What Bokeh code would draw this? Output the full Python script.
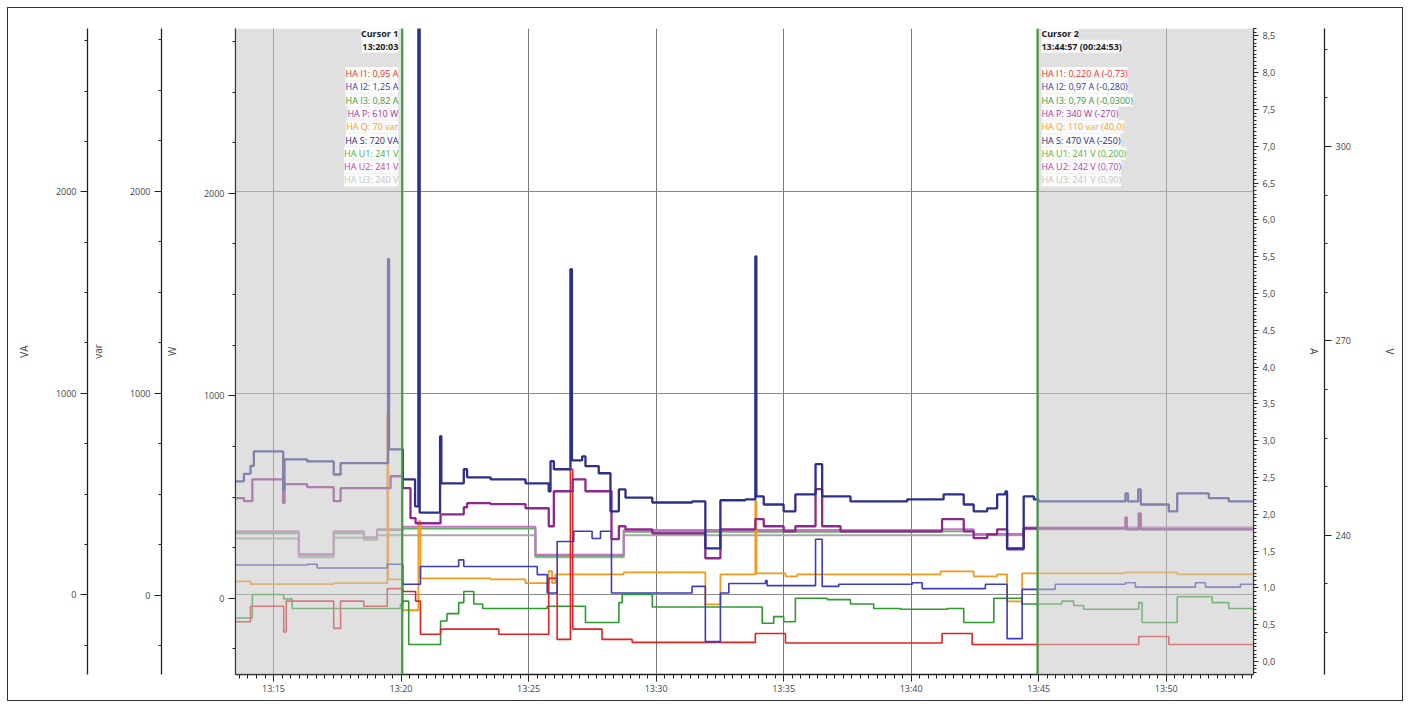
from bokeh.plotting import figure
from bokeh.models import (Range1d, LinearAxis, FixedTicker, Grid, BoxAnnotation,
                          Span, Label)
from bokeh.embed import file_html
from bokeh.resources import INLINE

FONT = "Open Sans"

# ---- time axis (minutes after 13:00) ----
X_START, X_END = 13.51, 53.42
CURSOR1 = 20.05   # 13:20:03
CURSOR2 = 44.95   # 13:44:57
x_tick_values = [15, 20, 25, 30, 35, 40, 45, 50]
x_tick_labels = ["13:15", "13:20", "13:25", "13:30", "13:35", "13:40", "13:45", "13:50"]

# ---- axis ranges / ticks ----
VA_RANGE = (-396, 2811)
VAR_RANGE = (-392, 2806)
W_RANGE = (-376, 2814)
A_RANGE = (-0.177, 8.60)
V_RANGE = (218.5, 318.2)
power_ticks = [0, 1000, 2000]
power_minor = [-250, 250, 500, 750, 1250, 1500, 1750, 2250, 2500, 2750]
a_tick_values = [0.0, 0.5, 1.0, 1.5, 2.0, 2.5, 3.0, 3.5, 4.0, 4.5, 5.0, 5.5, 6.0, 6.5, 7.0, 7.5, 8.0, 8.5]
a_tick_labels = ["0,0", "0,5", "1,0", "1,5", "2,0", "2,5", "3,0", "3,5", "4,0", "4,5",
                 "5,0", "5,5", "6,0", "6,5", "7,0", "7,5", "8,0", "8,5"]
v_tick_values = [240, 270, 300]
v_minor = [225, 232.5, 247.5, 255, 262.5, 277.5, 285, 292.5, 307.5, 315]

# ---- series (step data: time in minutes, value) ----
s_t = [13.51, 13.84, 14.10, 14.23, 15.38, 15.43, 16.32, 17.36, 17.63, 19.49, 19.53, 19.98,
       20.07, 20.55, 20.68, 20.73, 21.53, 21.58, 22.46, 22.59, 23.51, 24.88, 25.79, 25.86,
       25.99, 26.64, 26.70, 27.10, 27.23, 27.75, 28.21, 28.54, 28.80, 29.85, 31.41, 31.93,
       32.52, 33.50, 33.89, 33.93, 34.22, 35.00, 35.46, 36.25, 36.51, 37.62, 39.84, 41.27,
       42.06, 42.45, 42.98, 43.37, 43.69, 43.76, 44.41, 44.81, 45.00, 48.40, 48.50, 48.90,
       49.00, 50.10, 50.43, 51.67, 52.45, 53.42]
s_va = [563, 600, 640, 712, 520, 672, 662, 597, 653, 1667, 722, 722,
        573, 439, 3000, 408, 787, 553, 623, 583, 573, 553, 513, 663,
        623, 1616, 667, 687, 638, 603, 414, 523, 482, 458, 463, 230,
        469, 473, 1680, 488, 448, 414, 498, 648, 488, 463, 473, 498,
        448, 414, 429, 498, 513, 230, 488, 473, 463, 503, 463, 523,
        448, 414, 503, 480, 463, 463]

p_t = [13.51, 13.84, 14.17, 15.38, 15.43, 16.32, 17.36, 17.63, 19.59, 20.07, 20.37, 20.57,
       21.55, 22.46, 22.59, 23.51, 24.88, 25.79, 25.99, 26.73, 27.23, 28.25, 28.54, 28.80,
       29.85, 31.93, 32.52, 33.89, 34.22, 35.00, 35.46, 36.25, 36.51, 37.23, 41.21, 42.06,
       42.45, 42.98, 43.37, 43.76, 44.41, 48.40, 48.45, 48.92, 49.00, 53.42]
p_w = [495, 480, 588, 470, 564, 549, 480, 544, 603, 544, 396, 371,
       415, 450, 470, 465, 445, 356, 529, 588, 529, 292, 356, 341,
       321, 198, 341, 391, 356, 331, 356, 539, 356, 331, 391, 331,
       297, 316, 341, 242, 346, 400, 341, 420, 341, 341]

q_t = [13.51, 14.10, 17.36, 19.46, 19.50, 20.07, 20.68, 20.76, 23.51, 24.88, 25.79, 25.92,
       26.05, 28.73, 31.93, 32.52, 33.89, 33.93, 35.07, 35.53, 41.15, 42.45, 43.37, 43.76,
       44.35, 48.40, 50.43, 53.42]
q_var = [69, 55, 60, 900, 79, -74, 367, 84, 79, 60, 120, 60,
         104, 114, -45, 104, 466, 109, 94, 104, 119, 94, 104, -30,
         109, 114, 104, 104]

i2_t = [13.51, 16.32, 16.71, 19.46, 20.07, 20.76, 22.26, 22.46, 25.34, 25.73, 26.12, 26.77,
        27.49, 27.82, 28.25, 31.41, 31.93, 32.52, 32.85, 34.29, 34.35, 36.25, 36.51, 37.16,
        40.04, 40.43, 42.91, 43.76, 44.35, 45.65, 48.40, 48.79, 51.14, 51.54, 52.91, 53.42]
i2_a = [1.31, 1.32, 1.27, 1.32, 1.05, 1.29, 1.38, 1.29, 1.18, 0.93, 1.63, 1.77,
        1.67, 1.77, 0.93, 1.02, 0.27, 0.93, 1.06, 1.10, 1.03, 1.66, 1.02, 1.05,
        1.07, 0.99, 1.05, 0.31, 0.98, 1.05, 1.07, 1.01, 1.07, 1.01, 1.05, 1.05]

i3_t = [13.51, 14.17, 15.40, 15.73, 19.98, 20.07, 20.30, 21.55, 21.80, 22.26, 22.46, 22.85,
        23.20, 25.73, 27.23, 28.54, 28.67, 29.85, 34.16, 34.61, 35.00, 35.46, 36.71, 37.62,
        38.53, 39.58, 41.41, 42.06, 43.24, 44.35, 45.91, 46.37, 46.76, 48.92, 49.05, 50.43,
        51.80, 52.45, 53.42]
i3_a = [0.59, 0.91, 0.85, 0.72, 0.78, 0.82, 0.23, 0.55, 0.65, 0.80, 0.95, 0.78,
        0.72, 0.75, 0.53, 0.80, 0.91, 0.74, 0.52, 0.61, 0.54, 0.86, 0.84, 0.78,
        0.72, 0.71, 0.72, 0.53, 0.86, 0.78, 0.82, 0.76, 0.71, 0.80, 0.53, 0.88,
        0.80, 0.72, 0.72]

i1_t = [13.51, 14.10, 15.40, 15.50, 17.36, 17.63, 18.54, 19.46, 20.07, 20.57, 20.76, 21.55,
        23.83, 25.79, 26.12, 26.64, 26.73, 27.88, 29.06, 33.89, 35.07, 41.21, 42.39, 48.92,
        50.10, 53.42]
i1_a = [0.54, 0.75, 0.40, 0.82, 0.45, 0.82, 0.75, 0.99, 0.95, 0.82, 0.37, 0.44,
        0.37, 1.13, 0.30, 2.61, 0.44, 0.30, 0.26, 0.38, 0.25, 0.38, 0.23, 0.34,
        0.23, 0.23]

u_t = [13.51, 15.99, 17.36, 18.54, 19.06, 20.07, 25.27, 28.73, 41.21, 42.45, 44.41, 53.42]
u1_v = [240.3, 236.9, 240.3, 239.6, 240.8, 241.0, 236.8, 240.5, 240.6, 240.1, 241.0, 241.0]
u2_v = [240.6, 237.1, 240.6, 239.7, 240.9, 241.3, 237.0, 240.8, 240.9, 240.2, 241.2, 241.2]
u3_v = [239.5, 236.6, 239.6, 239.3, 240.0, 240.0, 236.6, 240.0, 240.0, 240.0, 240.9, 240.9]

# ---- cursor read-outs ----
cursor1_title = ["Cursor 1", "13:20:03"]
cursor2_title = ["Cursor 2", "13:44:57 (00:24:53)"]
cursor1_labels = ["HA I1: 0,95 A", "HA I2: 1,25 A", "HA I3: 0,82 A", "HA P: 610 W",
                  "HA Q: 70 var", "HA S: 720 VA", "HA U1: 241 V", "HA U2: 241 V", "HA U3: 240 V"]
cursor2_labels = ["HA I1: 0,220 A (-0,73)", "HA I2: 0,97 A (-0,280)", "HA I3: 0,79 A (-0,0300)",
                  "HA P: 340 W (-270)", "HA Q: 110 var (40,0)", "HA S: 470 VA (-250)",
                  "HA U1: 241 V (0,200)", "HA U2: 242 V (0,70)", "HA U3: 241 V (0,90)"]
label_colors = ["#e0352b", "#3b3ba6", "#3c9a3c", "#a23aa2", "#f2a31e", "#2b2b72",
                "#5aae46", "#b548b5", "#c4c4c4"]

# ---- colours ----
C_S, C_P, C_Q = "#2e2e8c", "#8c2a8c", "#f39a1c"
C_I1, C_I2, C_I3 = "#e02222", "#3c3cbe", "#2e9a2e"
C_U1, C_U2, C_U3 = "#62b062", "#c472c4", "#a8a8a8"
AX = "#222222"
TXT = "#444444"

p = figure(width=1396, height=694, x_range=Range1d(X_START, X_END),
           y_range=Range1d(*VA_RANGE), output_backend="svg", toolbar_location=None,
           x_axis_location=None, y_axis_location=None,
           min_border_left=227, min_border_right=151, min_border_top=20, min_border_bottom=28)
p.center = []          # no automatic grids
p.extra_y_ranges = {"W": Range1d(*W_RANGE), "var": Range1d(*VAR_RANGE),
                    "A": Range1d(*A_RANGE), "V": Range1d(*V_RANGE)}
p.outline_line_color = None
p.background_fill_color = "white"
p.margin = (7, 0, 0, 7)
p.styles = {"border": "1px solid #333333"}


def style_axis(ax, label_standoff):
    ax.axis_line_color = AX
    ax.axis_line_width = 1.3
    ax.major_tick_line_color = AX
    ax.minor_tick_line_color = AX
    ax.major_tick_out = 7
    ax.major_tick_in = 0
    ax.minor_tick_out = 3
    ax.minor_tick_in = 0
    ax.major_label_text_font = FONT
    ax.major_label_text_font_size = "9px"
    ax.major_label_text_color = TXT
    ax.major_label_standoff = 4
    ax.axis_label_text_font = FONT
    ax.axis_label_text_font_size = "10px"
    ax.axis_label_text_font_style = "normal"
    ax.axis_label_text_color = TXT
    ax.axis_label_standoff = label_standoff


# left axes: W innermost, then var, then VA
w_axis = LinearAxis(y_range_name="W", axis_label="W",
                    ticker=FixedTicker(ticks=power_ticks, minor_ticks=power_minor))
var_axis = LinearAxis(y_range_name="var", axis_label="var",
                      ticker=FixedTicker(ticks=power_ticks, minor_ticks=power_minor))
va_axis = LinearAxis(axis_label="VA",
                     ticker=FixedTicker(ticks=power_ticks, minor_ticks=power_minor))
for ax in (w_axis, var_axis, va_axis):
    style_axis(ax, 22)
    p.add_layout(ax, "left")

# right axes: A innermost, then V
a_axis = LinearAxis(y_range_name="A", axis_label="A",
                    ticker=FixedTicker(ticks=a_tick_values,
                                       minor_ticks=[round(-0.15 + 0.05 * k, 2) for k in range(176)]),
                    major_label_overrides=dict(zip(a_tick_values, a_tick_labels)))
style_axis(a_axis, 29)
a_axis.major_tick_out = 5
a_axis.minor_tick_out = 3
p.add_layout(a_axis, "right")
v_axis = LinearAxis(y_range_name="V", axis_label="V",
                    ticker=FixedTicker(ticks=v_tick_values, minor_ticks=v_minor))
style_axis(v_axis, 29)
p.add_layout(v_axis, "right")

# bottom time axis
x_minor = [round(13.0 + k / 3.0, 4) for k in range(3 * 41 + 1)]
x_axis = LinearAxis(ticker=FixedTicker(ticks=x_tick_values, minor_ticks=x_minor),
                    major_label_overrides=dict(zip(x_tick_values, x_tick_labels)))
style_axis(x_axis, 0)
x_axis.minor_tick_out = 4
x_axis.major_label_standoff = 0
p.add_layout(x_axis, "below")

# grids
p.add_layout(Grid(dimension=0, ticker=FixedTicker(ticks=x_tick_values),
                  grid_line_color="#7a7a7a", grid_line_width=1))
p.add_layout(Grid(dimension=1, ticker=FixedTicker(ticks=power_ticks),
                  grid_line_color="#8a8a8a", grid_line_width=1))

# series
p.step(u_t, u3_v, mode="after", y_range_name="V", line_color=C_U3, line_width=2.0)
p.step(u_t, u1_v, mode="after", y_range_name="V", line_color=C_U1, line_width=1.8)
p.step(u_t, u2_v, mode="after", y_range_name="V", line_color=C_U2, line_width=2.0)
p.step(q_t, q_var, mode="after", y_range_name="var", line_color=C_Q, line_width=1.8)
p.step(i3_t, i3_a, mode="after", y_range_name="A", line_color=C_I3, line_width=1.6)
p.step(i1_t, i1_a, mode="after", y_range_name="A", line_color=C_I1, line_width=1.6)
p.step(i2_t, i2_a, mode="after", y_range_name="A", line_color=C_I2, line_width=1.6)
p.step(p_t, p_w, mode="after", y_range_name="W", line_color=C_P, line_width=2.3)
p.step(s_t, s_va, mode="after", line_color=C_S, line_width=2.3)

# shaded areas outside the cursors (fade what lies beneath)
p.add_layout(BoxAnnotation(right=CURSOR1, fill_color="#c6c6c6", fill_alpha=0.55, line_color=None))
p.add_layout(BoxAnnotation(left=CURSOR2, fill_color="#c6c6c6", fill_alpha=0.55, line_color=None))

# cursors
for c in (CURSOR1, CURSOR2):
    p.add_layout(Span(location=c, dimension="height", line_color="#3a9d3a", line_width=2))

# cursor texts (positions on the A scale)
title_y = [8.53, 8.36]
row_y = [7.99 - 0.181 * k for k in range(9)]
for k, txt in enumerate(cursor1_title):
    p.add_layout(Label(x=CURSOR1, y=title_y[k], y_range_name="A", text=txt, x_offset=-4,
                       text_align="right", text_baseline="middle", text_font=FONT,
                       text_font_size="9px", text_font_style="bold", text_color="#222222",
                       background_fill_color="white", background_fill_alpha=0.85))
for k, txt in enumerate(cursor2_title):
    p.add_layout(Label(x=CURSOR2, y=title_y[k], y_range_name="A", text=txt, x_offset=4,
                       text_align="left", text_baseline="middle", text_font=FONT,
                       text_font_size="9px", text_font_style="bold", text_color="#222222",
                       background_fill_color="white", background_fill_alpha=0.85))
for k in range(9):
    p.add_layout(Label(x=CURSOR1, y=row_y[k], y_range_name="A", text=cursor1_labels[k],
                       x_offset=-4, text_align="right", text_baseline="middle",
                       text_font=FONT, text_font_size="9px", text_color=label_colors[k],
                       background_fill_color="white", background_fill_alpha=0.85))
    p.add_layout(Label(x=CURSOR2, y=row_y[k], y_range_name="A", text=cursor2_labels[k],
                       x_offset=4, text_align="left", text_baseline="middle",
                       text_font=FONT, text_font_size="9px", text_color=label_colors[k],
                       background_fill_color="white", background_fill_alpha=0.85))

open("out.html", "w").write(file_html(p, INLINE))
